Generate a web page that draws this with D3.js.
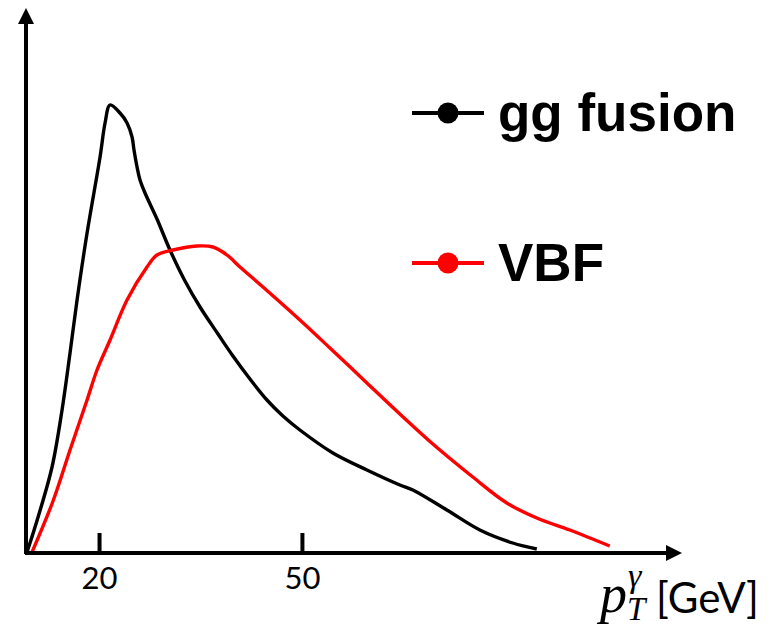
<!DOCTYPE html>
<html><head><meta charset="utf-8">
<script src="https://cdn.jsdelivr.net/npm/d3@7"></script>
<style>html,body{margin:0;padding:0;background:#fff;}svg{display:block;}</style>
</head><body>
<script>
// ---- data (x: pT in GeV, y: arbitrary units) ----
const seriesNames = ["gg fusion", "VBF"];
const seriesColors = ["#000000", "#ff0000"];
const ggX = [9.36,10.99,13.05,14.53,15.71,16.75,18.23,20.15,20.89,21.63,23.10,24.14,24.88,25.17,25.62,26.06,26.80,28.57,30.49,32.71,34.93,37.59,39.80,42.32,44.83,47.19,49.70,54.58,59.61,64.48,66.40,71.43,76.31,81.18,84.73];
const ggY = [0.2,7.2,17.2,28.6,40.0,50.6,64.0,79.2,86.0,89.6,88.0,86.0,83.2,80.6,77.2,74.6,72.0,66.8,60.6,54.4,49.2,43.8,39.4,34.8,30.6,27.4,24.6,20.0,16.6,13.6,12.6,8.6,4.6,2.0,0.8];
const vbfX = [10.10,13.20,15.71,18.23,19.70,21.63,24.14,27.09,28.57,30.94,34.48,36.85,38.92,40.84,44.24,49.70,54.14,59.61,64.48,69.36,75.27,80.30,84.73,89.61,95.52];
const vbfY = [0.2,10.4,20.6,30.6,36.6,42.6,50.6,57.2,59.6,60.6,61.4,61.2,59.6,57.2,53.2,46.6,41.0,34.0,27.8,21.8,15.2,10.0,7.0,4.6,1.4];
const tickValues = [20, 50];
const xDomain = [9.2, 106.2];
const yDomain = [0, 109];

const W = 776, H = 626;
const svg = d3.select("body").append("svg").attr("width", W).attr("height", H);

const x = d3.scaleLinear().domain(xDomain).range([26, 682]);
const y = d3.scaleLinear().domain(yDomain).range([553, 8]);

// curves
const line = d3.line().x(d => x(d[0])).y(d => y(d[1])).curve(d3.curveCatmullRom.alpha(0.5));
const series = [d3.zip(ggX, ggY), d3.zip(vbfX, vbfY)];
svg.selectAll("path.series").data(series).join("path")
  .attr("class", "series")
  .attr("d", line)
  .attr("fill", "none")
  .attr("stroke", (d, i) => seriesColors[i])
  .attr("stroke-width", 3.4)
  .attr("stroke-linejoin", "round");

// axes
const x0 = x.range()[0], x1 = x.range()[1];
const y0 = y.range()[0], y1 = y.range()[1];
svg.append("line").attr("x1", x0 - 1).attr("x2", x1 - 12).attr("y1", y0).attr("y2", y0)
  .attr("stroke", "#000").attr("stroke-width", 4);
svg.append("path").attr("d", `M${x1},${y0} L${x1 - 16},${y0 - 8} L${x1 - 16},${y0 + 8} Z`).attr("fill", "#000");
svg.append("line").attr("x1", x0).attr("x2", x0).attr("y1", y0 + 1).attr("y2", y1 + 12)
  .attr("stroke", "#000").attr("stroke-width", 4);
svg.append("path").attr("d", `M${x0},${y1} L${x0 - 8},${y1 + 16} L${x0 + 8},${y1 + 16} Z`).attr("fill", "#000");

const xAxis = d3.axisBottom(x).tickValues(tickValues).tickSizeInner(-20).tickSizeOuter(0).tickPadding(14);
const gx = svg.append("g").attr("transform", `translate(0,${y0})`).call(xAxis);
gx.select(".domain").remove();
gx.selectAll(".tick line").attr("stroke", "#000").attr("stroke-width", 4);
gx.selectAll(".tick text").attr("font-family", "Lato, 'Open Sans', sans-serif").attr("font-size", 31).attr("fill", "#000");

// axis title p_T^γ [GeV]
const lab = svg.append("g");
lab.append("text").attr("x", 600).attr("y", 612).attr("font-family", "'Liberation Serif', serif")
  .attr("font-style", "italic").attr("font-size", 54).text("p");
lab.append("text").attr("x", 628).attr("y", 587).attr("font-family", "'Liberation Serif', serif")
  .attr("font-style", "italic").attr("font-size", 34).text("γ");
lab.append("text").attr("x", 627).attr("y", 620).attr("font-family", "'Liberation Serif', serif")
  .attr("font-style", "italic").attr("font-size", 33).text("T");
lab.append("text").attr("x", 656).attr("y", 613).attr("font-family", "Lato, 'Open Sans', sans-serif")
  .attr("font-size", 42).text("[GeV]");

// legend
const legendY = [113, 263];
const lg = svg.selectAll("g.leg").data(seriesNames).join("g").attr("class", "leg")
  .attr("transform", (d, i) => `translate(0,${legendY[i]})`);
lg.append("line").attr("x1", 412).attr("x2", 484).attr("y1", 0).attr("y2", 0)
  .attr("stroke", (d, i) => seriesColors[i]).attr("stroke-width", 4);
lg.append("circle").attr("cx", 448).attr("cy", 0).attr("r", 10.5).attr("fill", (d, i) => seriesColors[i]);
lg.append("text").attr("x", 498).attr("y", 18).attr("font-family", "'Liberation Sans', Arial, sans-serif")
  .attr("font-weight", "bold").attr("font-size", 53).attr("fill", "#000").text(d => d);
</script>
</body></html>
